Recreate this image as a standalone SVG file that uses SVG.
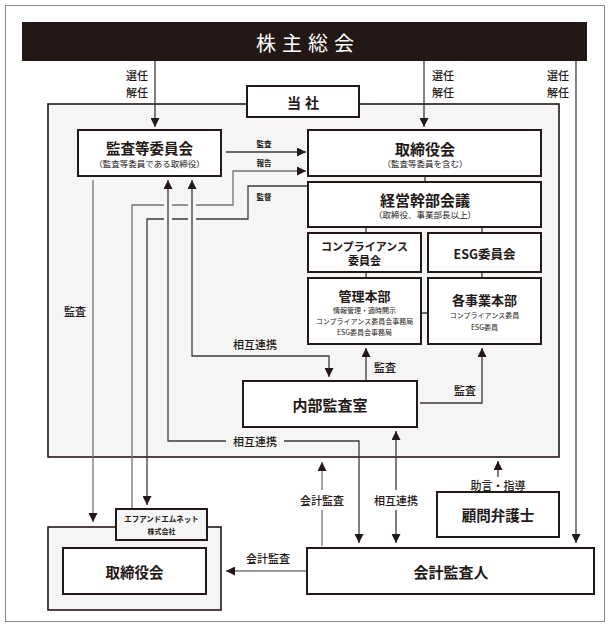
<svg xmlns="http://www.w3.org/2000/svg" width="610" height="627" viewBox="0 0 610 627">
<defs>
<marker id="ah" viewBox="0 0 10 10" refX="10" refY="5" markerWidth="9" markerHeight="9" markerUnits="userSpaceOnUse" orient="auto-start-reverse"><path d="M0,0 L10,5 L0,10 z" fill="#231815"/></marker>
</defs>
<style>
.box{fill:#fff;stroke:#231815;stroke-width:2}
.frame{fill:#f4f5f4;stroke:#231815;stroke-width:1.6}
.ln{fill:none;stroke:#3e3a39;stroke-width:1.3}
.lg{fill:none;stroke:#7a7271;stroke-width:1.3}
text{font-family:"Noto Sans CJK JP","Noto Sans",sans-serif;fill:#231815;text-anchor:middle;dominant-baseline:central}
.t{font-weight:bold}
.lb{font-size:11px;font-weight:500}
.sl{font-size:7.5px;font-weight:bold}
.sub{font-size:8.5px}
.tiny{font-size:7px}
</style>
<rect x="5.5" y="5.5" width="599" height="616" fill="#fff" stroke="#8c8c8c" stroke-width="1"/>

<g id="kabunushi">
<rect x="22" y="22" width="565" height="39" fill="#231815"/>
<text x="308" y="42" font-size="20" letter-spacing="6" style="fill:#fff">株主総会</text>
</g>

<g id="tousha">
<rect class="frame" x="48" y="104" width="511" height="353"/>
<rect x="247" y="86" width="112" height="31" fill="#fff" stroke="#231815" stroke-width="2"/>
<text class="t" x="305" y="102" font-size="14" letter-spacing="4">当社</text>
</g>

<g id="fm-group">
<rect class="frame" x="48" y="527" width="173" height="83" stroke-width="2"/>
</g>

<g id="connectors">
<path class="ln" d="M155,61 V127" marker-end="url(#ah)"/>
<path class="ln" d="M424,61 V127" marker-end="url(#ah)"/>
<path class="ln" d="M576,61 V543" marker-end="url(#ah)"/>
<path class="ln" d="M226,152 H306" marker-end="url(#ah)"/>
<path class="lg" d="M132,509 V205 H164 M172,205 H188 M196,205 H233 V171 H306" marker-end="url(#ah)"/>
<path class="ln" d="M308,186 H248 V219 H196 M188,219 H172 M164,219 H147 V505" marker-end="url(#ah)"/>
<path class="lg" d="M93,180 V522" marker-end="url(#ah)"/>
<path class="ln" d="M192,180 V356 H329 V377" marker-start="url(#ah)" marker-end="url(#ah)"/>
<path class="ln" d="M168,180 V441 H226 M284,441 H359 V543" marker-start="url(#ah)" marker-end="url(#ah)"/>
<path class="ln" d="M366,381 V348" marker-end="url(#ah)"/>
<path class="ln" d="M420,403 H482 V348" marker-end="url(#ah)"/>
<path class="lg" d="M322,546 V510 M322,490 V462" marker-end="url(#ah)"/>
<path class="ln" d="M396,431 V490 M396,510 V543" marker-start="url(#ah)" marker-end="url(#ah)"/>
<path class="ln" d="M498,477 V461" marker-end="url(#ah)"/>
<path class="lg" d="M307,571 H226" marker-end="url(#ah)"/>
<path class="ln" d="M425,176 V182 M366,227 V233 M482,227 V233 M366,272 V278 M482,272 V278 M421,313 H428"/>
<text class="lb" x="137" y="75">選任</text>
<text class="lb" x="137" y="92">解任</text>
<text class="lb" x="443" y="75">選任</text>
<text class="lb" x="443" y="92">解任</text>
<text class="lb" x="558" y="75">選任</text>
<text class="lb" x="558" y="92">解任</text>
<text class="sl" x="264" y="143">監査</text>
<text class="sl" x="264" y="162">報告</text>
<text class="sl" x="264" y="196">監督</text>
<text class="lb" x="75" y="311">監査</text>
<text class="lb" x="255" y="344">相互連携</text>
<text class="lb" x="255" y="441">相互連携</text>
<text class="lb" x="385" y="367">監査</text>
<text class="lb" x="465" y="390">監査</text>
<text class="lb" x="322" y="500">会計監査</text>
<text class="lb" x="396" y="500">相互連携</text>
<text class="lb" x="498" y="485">助言・指導</text>
<text class="lb" x="268" y="558">会計監査</text>
</g>

<g id="kansatou">
<rect class="box" x="78" y="130" width="143" height="46"/>
<text class="t" x="149.5" y="147" font-size="14.5">監査等委員会</text>
<text class="sub" x="149.5" y="163">（監査等委員である取締役）</text>
</g>
<g id="torishimariyakukai">
<rect class="box" x="308" y="130" width="233" height="46"/>
<text class="t" x="425" y="148" font-size="15">取締役会</text>
<text class="sub" x="425" y="163">（監査等委員を含む）</text>
</g>
<g id="keiei">
<rect class="box" x="308" y="182" width="233" height="45"/>
<text class="t" x="425" y="199" font-size="15">経営幹部会議</text>
<text class="sub" x="425" y="214">（取締役、事業部長以上）</text>
</g>
<g id="compliance">
<rect class="box" x="308" y="233" width="113" height="39"/>
<text class="t" x="364.5" y="245.5" font-size="11">コンプライアンス</text>
<text class="t" x="364.5" y="260" font-size="11">委員会</text>
</g>
<g id="esg">
<rect class="box" x="428" y="233" width="113" height="39"/>
<text class="t" x="484.5" y="253" font-size="12.5">ESG委員会</text>
</g>
<g id="kanri">
<rect class="box" x="308" y="278" width="113" height="66"/>
<text class="t" x="364.5" y="295" font-size="13">管理本部</text>
<text class="tiny" x="364.5" y="310">情報管理・適時開示</text>
<text class="tiny" x="364.5" y="321">コンプライアンス委員会事務局</text>
<text class="tiny" x="364.5" y="332">ESG委員会事務局</text>
</g>
<g id="jigyou">
<rect class="box" x="428" y="278" width="113" height="66"/>
<text class="t" x="484.5" y="299" font-size="13">各事業本部</text>
<text class="tiny" x="484.5" y="315">コンプライアンス委員</text>
<text class="tiny" x="484.5" y="327">ESG委員</text>
</g>
<g id="naibu">
<rect class="box" x="243" y="381" width="174" height="46"/>
<text class="t" x="330" y="404" font-size="15">内部監査室</text>
</g>
<g id="komon">
<rect class="box" x="437" y="492" width="122" height="45"/>
<text class="t" x="498" y="514.5" font-size="14.5">顧問弁護士</text>
</g>
<g id="kaikei">
<rect class="box" x="307" y="548" width="287" height="46"/>
<text class="t" x="451" y="571" font-size="15">会計監査人</text>
</g>
<g id="fm">
<rect x="116" y="509" width="91" height="31" fill="#f4f5f4" stroke="#231815" stroke-width="2"/>
<text class="t" x="161.5" y="518.5" font-size="7.5">エフアンドエムネット</text>
<text class="t" x="161.5" y="531" font-size="7">株式会社</text>
</g>
<g id="fm-torishimariyaku">
<rect class="box" x="63" y="548" width="143" height="46"/>
<text class="t" x="134.5" y="571" font-size="14.5">取締役会</text>
</g>
</svg>
